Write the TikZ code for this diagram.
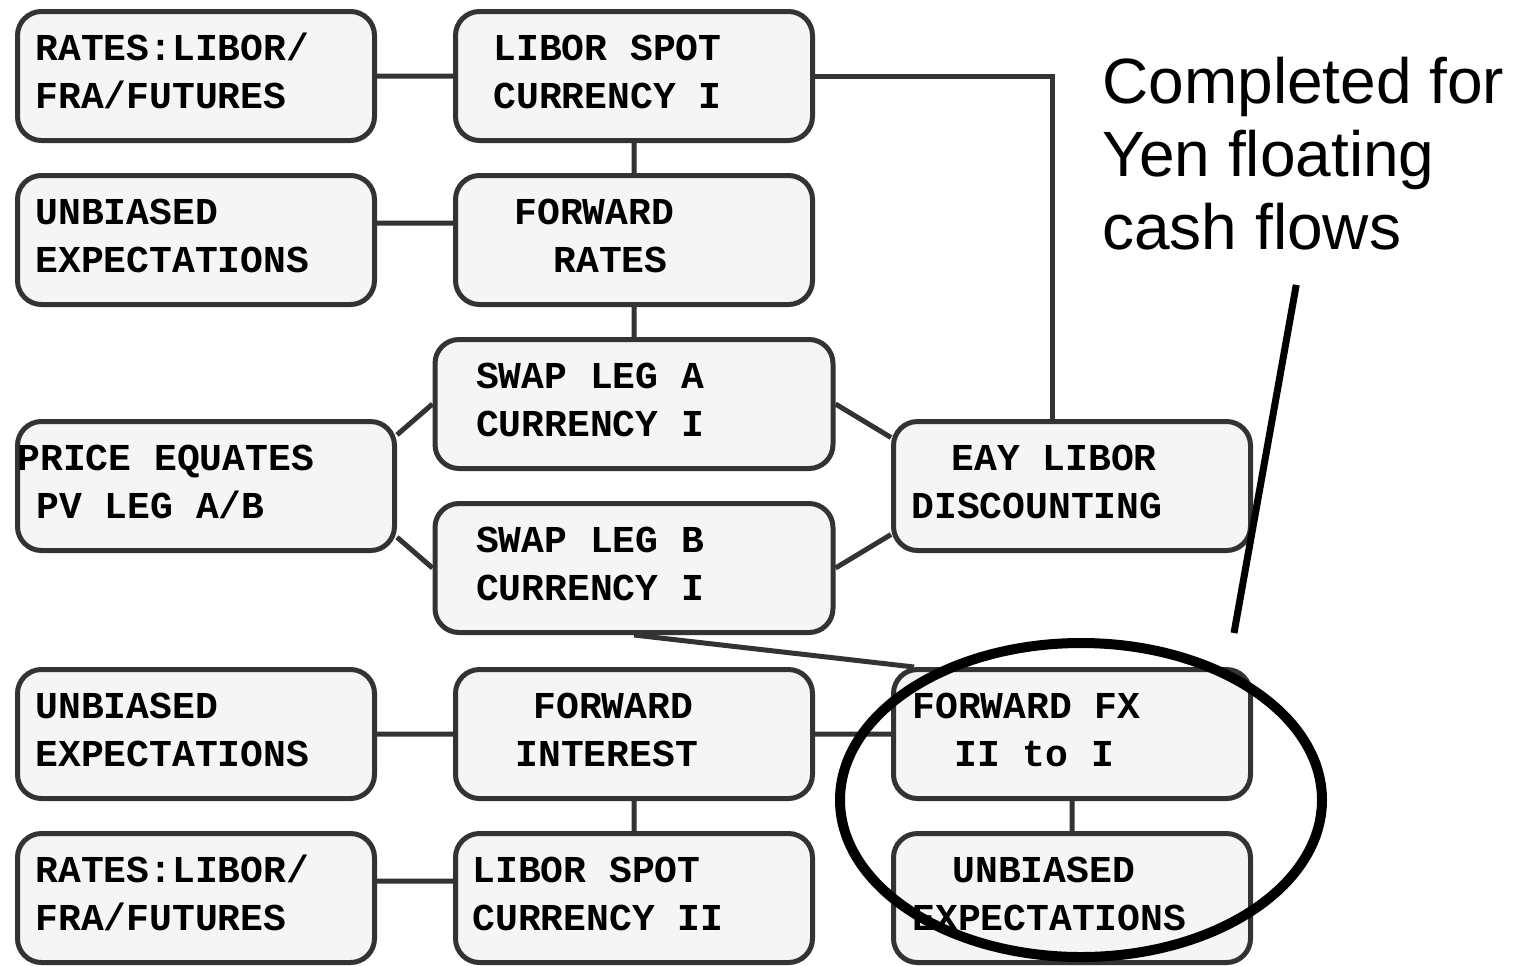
\documentclass[tikz,border=0pt]{standalone}
\usepackage{fontspec}
\setmonofont{Liberation Mono}
\setsansfont{Liberation Sans}
\usetikzlibrary{positioning,calc}

\definecolor{boxline}{RGB}{51,51,51}
\definecolor{boxfill}{RGB}{245,245,245}
\newcommand{\pad}[1]{\hspace*{#1pt}}
% full character-width spaces in the typewriter face
\newcommand{\monospaces}{\spaceskip=0.6em\relax\xspaceskip=0.6em\relax}

\begin{document}
\begin{tikzpicture}[x=0.5pt, y=-0.5pt, node distance=15pt and 38pt,
	box/.style={rectangle, rounded corners=12pt, draw=boxline, fill=boxfill, line width=2.5pt,
		inner sep=0pt, text width=178.5pt, text height=24.25pt, text depth=40.25pt, align=flush left,
		font=\ttfamily\bfseries\fontsize{19pt}{24.25pt}\selectfont, execute at begin node=\monospaces},
	link/.style={draw=boxline, line width=2.5pt},
	note/.style={inner sep=0pt, text width=216pt, text height=25pt, align=flush left,
		font=\sffamily\fontsize{32pt}{36.5pt}\selectfont},
	ring/.style={draw=black, line width=5pt},
	pointer/.style={draw=black, line width=3.5pt}]
	\useasboundingbox (0,0) rectangle (1526,965);

	% currency I
	\node[box, anchor=north west] (ratesI) at (15,9)    {\pad{9}RATES:LIBOR/\\\pad{9}FRA/FUTURES};
	\node[box] (spotI) [right=of ratesI]                 {\pad{19}LIBOR SPOT\\\pad{19}CURRENCY I};
	\node[box] (unbI) [below=of ratesI]                  {\pad{9}UNBIASED\\\pad{9}EXPECTATIONS};
	\node[box] (fwdRates) [below=of spotI]               {\pad{29.5}FORWARD\\\pad{49}RATES};
	\node[box, text width=199pt] (swapA) [below=of fwdRates] {\pad{20.5}SWAP LEG A\\\pad{20.5}CURRENCY I};
	\node[box, text width=199pt] (swapB) [below=of swapA]    {\pad{20.5}SWAP LEG B\\\pad{20.5}CURRENCY I};
	\coordinate (legs) at ($(swapA.south)!0.5!(swapB.north)$);
	\node[box, text width=188.5pt, anchor=west] (price) at (ratesI.west |- legs) {PRICE EQUATES\\\pad{9.5}PV LEG A/B};

	% currency II
	\node[box] (fwdInt) [below=16pt of swapB]            {\pad{39}FORWARD\\\pad{30}INTEREST};
	\node[box] (unbII) [left=of fwdInt]                  {\pad{9}UNBIASED\\\pad{9}EXPECTATIONS};
	\node[box] (fx) [right=of fwdInt]                    {\pad{9.5}FORWARD FX\\\pad{30.5}II to I};
	\node[box] (eay) at (fx |- price)                    {\pad{29}EAY LIBOR\\\pad{9}DISCOUNTING};
	\node[box] (ratesII) [below=of unbII]                {\pad{9}RATES:LIBOR/\\\pad{9}FRA/FUTURES};
	\node[box] (spotII) [below=of fwdInt]                {\pad{8.5}LIBOR SPOT\\\pad{8.5}CURRENCY II};
	\node[box] (unbFX) [below=of fx]                     {\pad{29.5}UNBIASED\\\pad{9.5}EXPECTATIONS};

	\draw[link] (ratesI) -- (spotI)
		(spotI) -- (fwdRates)
		([yshift=8.5pt]unbI.east) -- ([yshift=8.5pt]fwdRates.west)
		(fwdRates) -- (swapA)
		(price.15) -- (swapA.west)
		(price.-15) -- (swapB.west)
		(swapA.east) -- (eay.165)
		(swapB.east) -- (eay.195)
		(swapB.south) -- (fx.157)
		(unbII) -- (fwdInt)
		(fwdInt) -- (fx)
		(fwdInt) -- (spotII)
		([yshift=8.5pt]ratesII.east) -- ([yshift=8.5pt]spotII.west)
		(fx) -- (unbFX);
	\draw[link] (spotI.east) -| ([xshift=-9.75pt]eay.north);

	% callout
	\node[note, anchor=north west] (note) at (1102,53) {Completed for\\Yen floating\\cash flows};
	\coordinate (tip) at (1234,633);
	\draw[pointer, shorten <=17.5pt] ([xshift=-8pt]note.south) -- (tip);
	\draw[ring] (1081,800) ellipse [x radius=120.5pt, y radius=78.5pt];
\end{tikzpicture}
\end{document}
